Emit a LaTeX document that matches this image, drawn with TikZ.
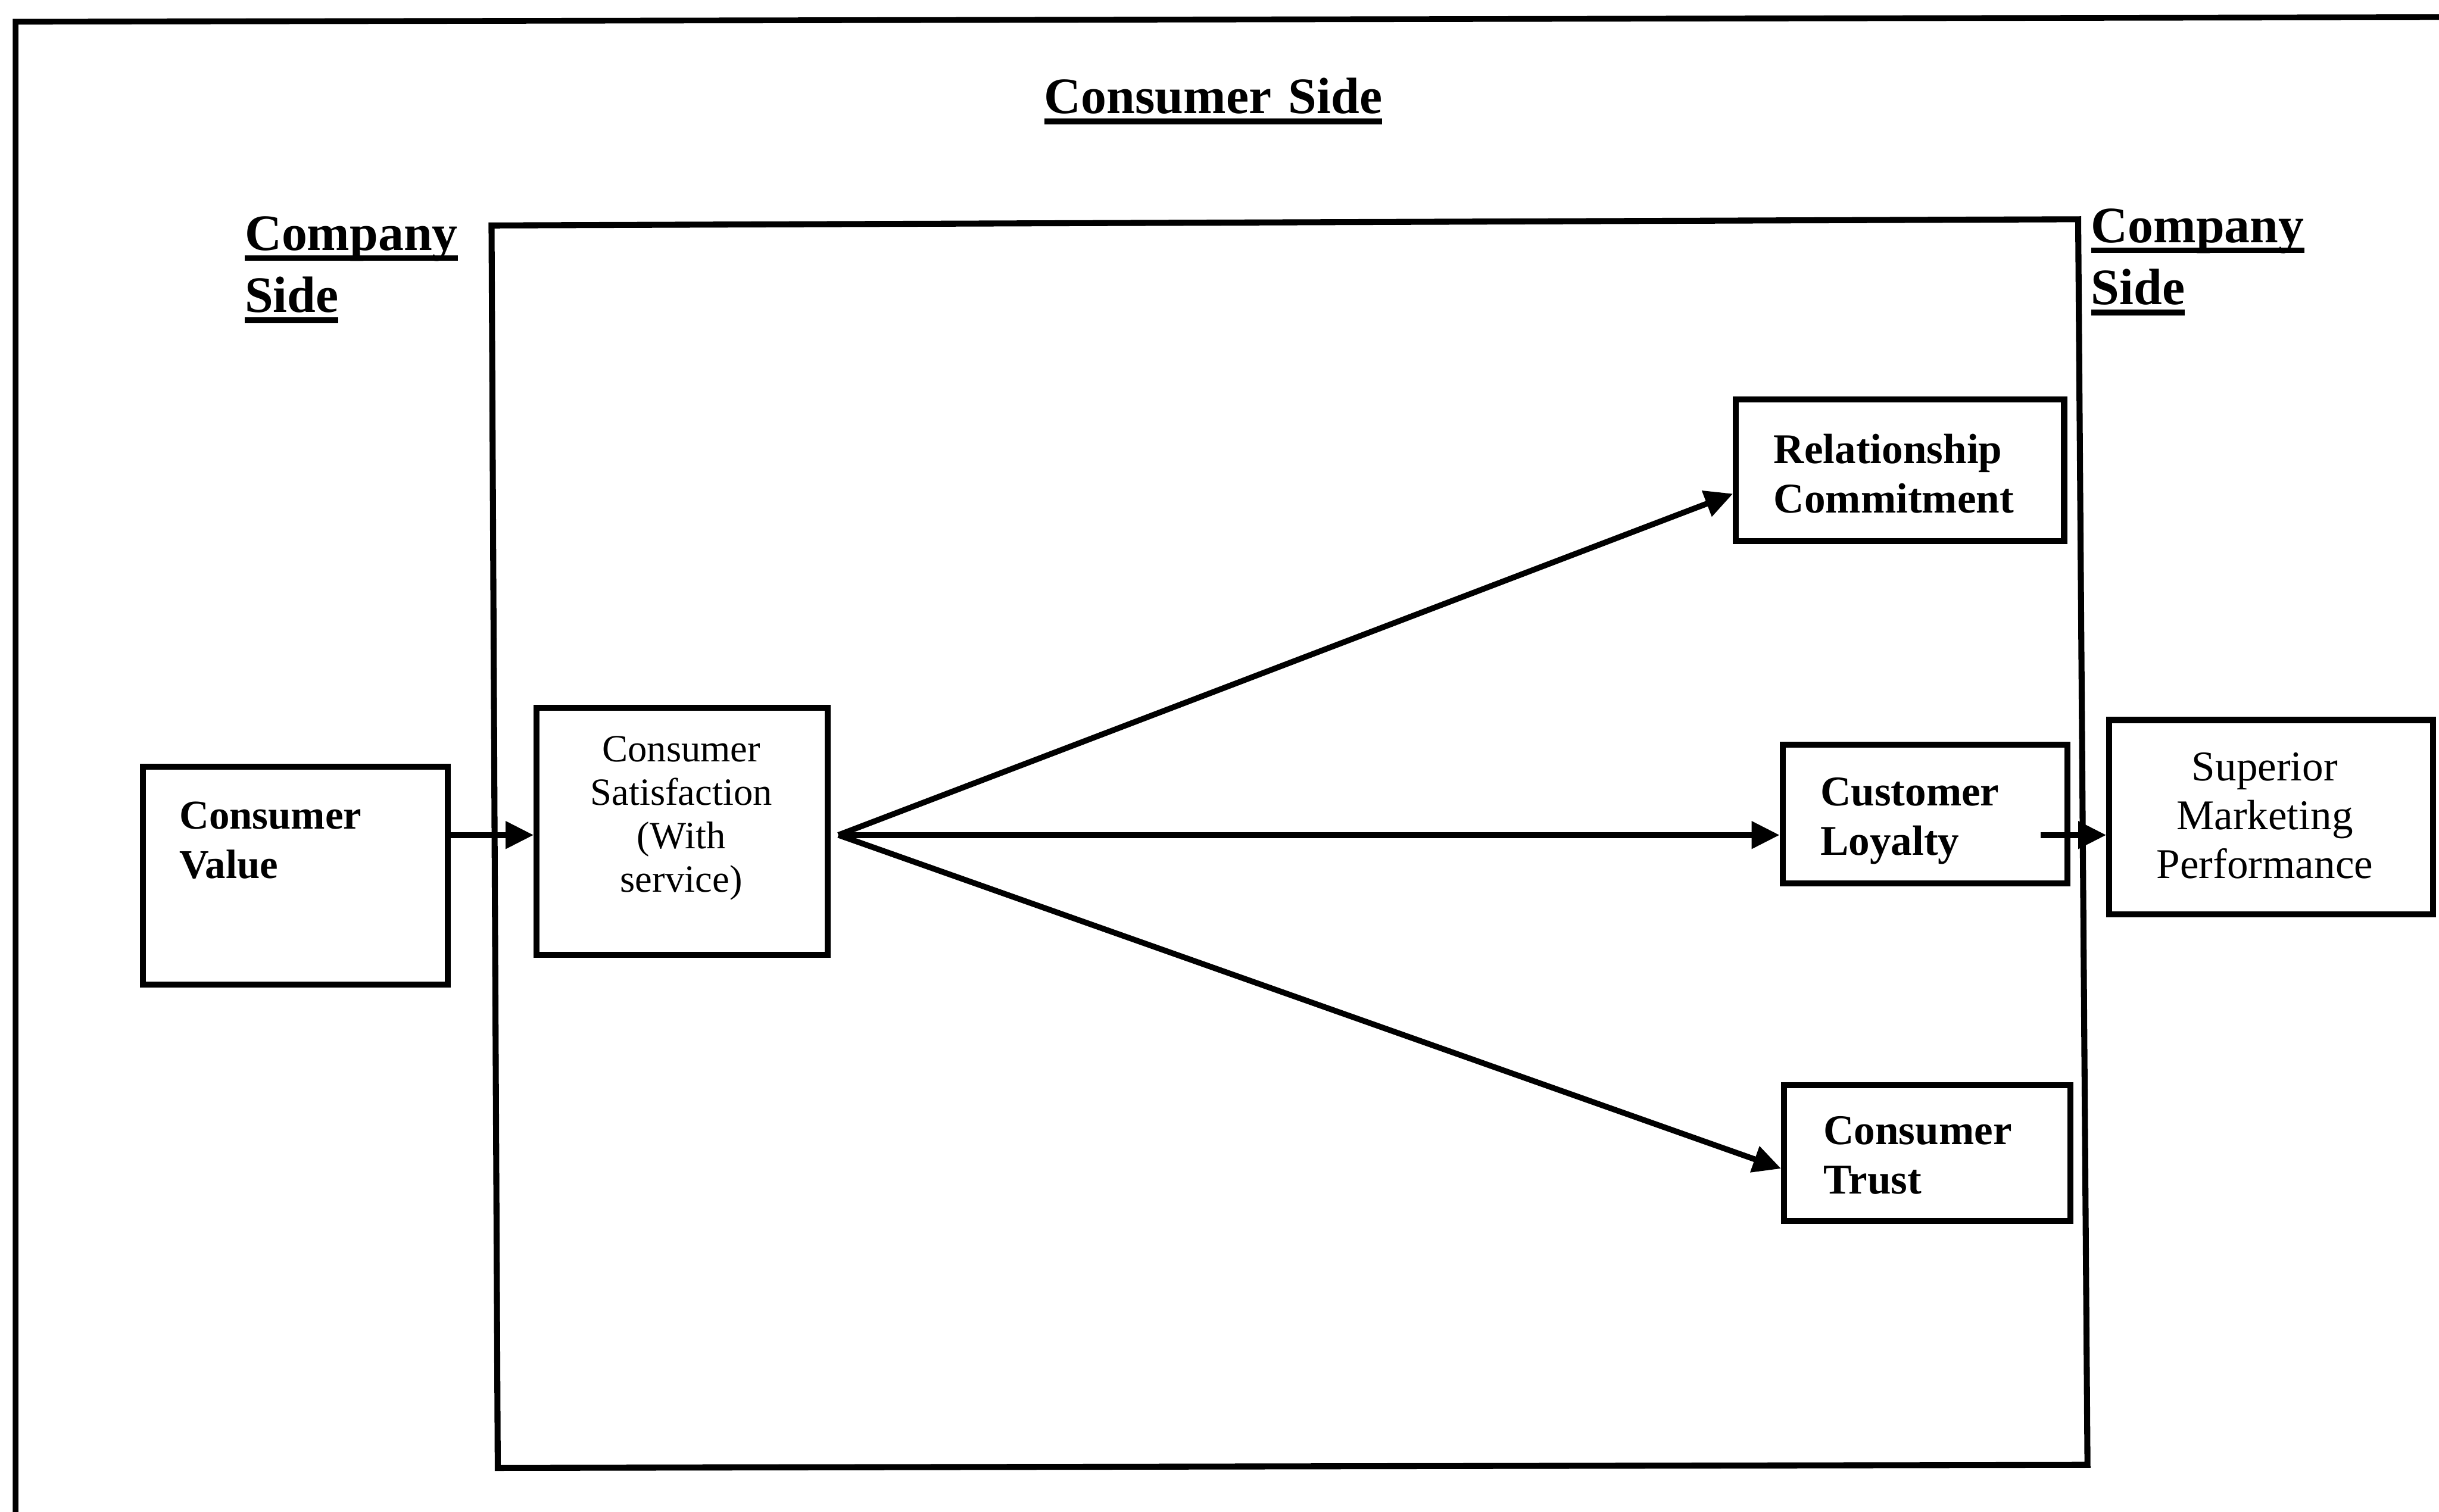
\documentclass[tikz,border=0pt]{standalone}
\usepackage{fontspec}
\setmainfont{Liberation Serif}
\usepackage{tikz}
\usetikzlibrary{arrows.meta,positioning,fit,calc}

% underlined heading word
\newcommand{\hdul}[1]{\leavevmode\hbox{\setbox0\hbox{#1}\rlap{\rule[-3.9pt]{\wd0}{2pt}}\box0}}

\tikzset{
  cbox/.style={draw, line width=2.2pt, inner sep=0pt},
  boldtxt/.style={font=\fontsize{15.5}{18.1}\selectfont\bfseries, align=left, text width=4cm, inner sep=0pt},
  plaintxt/.style={font=\fontsize{14.1}{15.9}\selectfont, align=center, text width=3.6cm, inner sep=0pt},
  heading/.style={font=\fontsize{18.7}{22.7}\selectfont\bfseries, align=left, text width=3cm, inner sep=0pt},
  arr/.style={line width=2.1pt, -{Triangle[length=0.36cm,width=0.34cm]}},
}

\begin{document}
\begin{tikzpicture}[x=0.02cm,y=-0.02cm]
\useasboundingbox (0,0) rectangle (1568,972);
\clip (0,0) rectangle (1568,972);
% outer frame, cut off at right and bottom
\draw [line width=2.1pt] (10,1000) -- (10,14) -- (1600,11);
% consumer side frame
\draw [line width=2.2pt] (316,145) -- (1336,141) -- (1342,942) -- (320,944) -- cycle;

\node [heading, align=center, text width=6cm, anchor=base] (topside) at (780,73) {\hdul{Consumer Side}};
\node [heading, anchor=base west] (leftside) at (157,161) {\hdul{Company}\\\hdul{Side}};
\node [heading, anchor=base west] (rightside) at (1344,156) {\hdul{Company}\\\hdul{Side}};

% boxes
\node [cbox, fit={(92,493) (288,633)}] (cv) {};
\node [cbox, fit={(345,455) (532,614)}] (cs) {};
\node [cbox, fit={(1116,257) (1327,348)}] (rc) {};
\node [cbox, fit={(1146,479) (1329,568)}] (cl) {};
\node [cbox, fit={(1147,698) (1331,785)}] (ct) {};
\node [cbox, fit={(1356,463) (1564,588)}] (smp) {};

\node [boldtxt, anchor=base west, font=\fontsize{15}{18.1}\selectfont\bfseries] (cvtxt) at (115,533) {Consumer\\Value};
\node [plaintxt, anchor=base] (cstxt) at (438,490) {Consumer\\Satisfaction\\(With\\service)};
\node [boldtxt, anchor=base west] (rctxt) at (1140,298) {Relationship\\Commitment};
\node [boldtxt, anchor=base west] (cltxt) at (1170,518) {Customer\\Loyalty};
\node [boldtxt, anchor=base west] (cttxt) at (1172,736) {Consumer\\Trust};
\node [plaintxt, anchor=base, font=\fontsize{15.5}{17.9}\selectfont] (smptxt) at (1456,502) {Superior\\Marketing\\Performance};

% arrows
\coordinate (fan) at (539,537);
\draw [arr] (cv.east |- fan) -- (cs.west |- fan);
\draw [arr] (fan) -- ($(rc.west)+(0,15)$);
\draw [arr] (fan) -- (cl.west |- fan);
\draw [arr] (fan) -- ($(ct.west)+(0,10)$);
\draw [arr] ($(cl.east |- fan)+(-19,0)$) -- (smp.west |- fan);
\end{tikzpicture}
\end{document}
